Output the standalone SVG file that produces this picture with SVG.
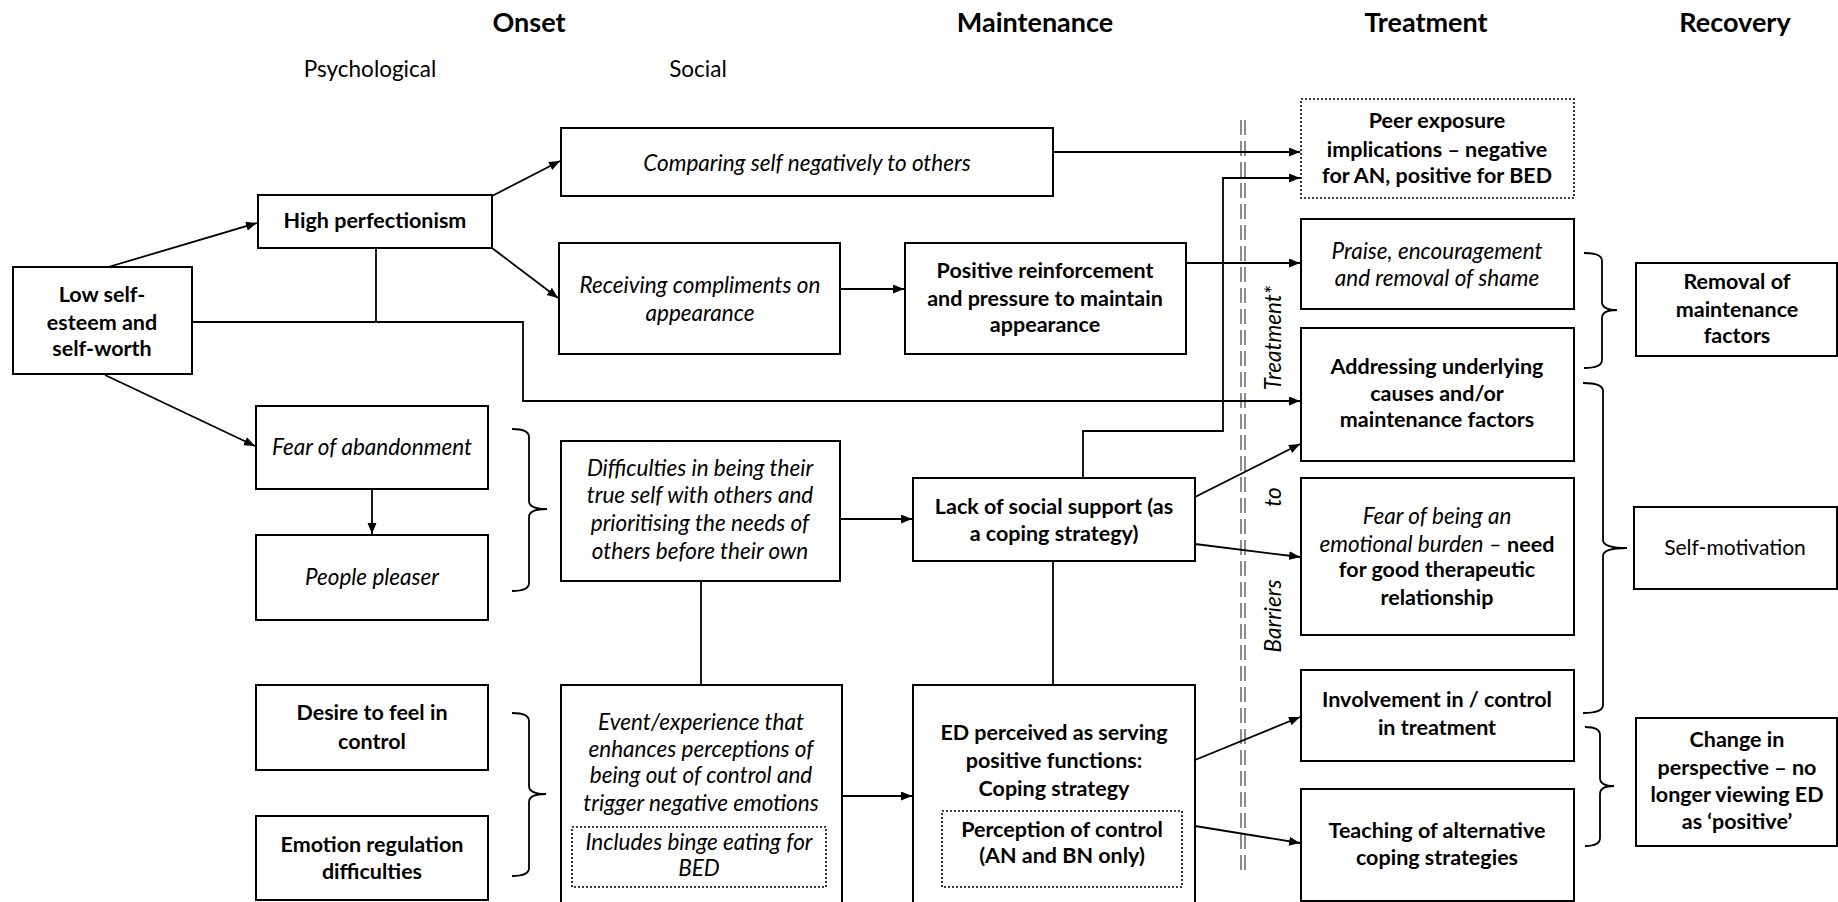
<svg xmlns="http://www.w3.org/2000/svg" width="1838" height="902" viewBox="0 0 1838 902">
<defs>
<marker id="arr" markerUnits="userSpaceOnUse" markerWidth="12" markerHeight="10" refX="11" refY="4.5" orient="auto">
<path d="M0,0 L11,4.5 L0,9 z" fill="#000"/>
</marker>
<style>
text{font-family:Lato,"Liberation Sans",sans-serif;fill:#000;text-anchor:middle}
.t{font-size:27px;font-weight:bold}
.s{font-size:22.5px}
.sm{font-size:21px}
.b{font-size:21.5px;font-weight:bold}
.i{font-size:22.5px;font-style:italic}
.bx{fill:#fff;stroke:#000;stroke-width:2}
.dot{fill:none;stroke:#000;stroke-width:1.6;stroke-dasharray:2 2}
.c{fill:none;stroke:#000;stroke-width:1.8}
.a{fill:none;stroke:#000;stroke-width:1.8;marker-end:url(#arr)}
.br{fill:none;stroke:#000;stroke-width:1.8}
.dl{stroke:#7a7a7a;stroke-width:1.7;stroke-dasharray:15 6}
</style>
</defs>
<rect width="1838" height="902" fill="#fff"/>

<g id="headers">
<text class="t" x="529" y="32">Onset</text>
<text class="t" x="1035" y="32">Maintenance</text>
<text class="t" x="1426" y="32">Treatment</text>
<text class="t" x="1735" y="32">Recovery</text>
<text class="s" x="370" y="77">Psychological</text>
<text class="s" x="698" y="77">Social</text>
</g>

<g id="barrier-line">
<line class="dl" x1="1241" y1="120" x2="1241" y2="870"/>
<line class="dl" x1="1245" y1="120" x2="1245" y2="870"/>
<text class="i" transform="translate(1281,338) rotate(-90)">Treatment*</text>
<text class="i" transform="translate(1281,497) rotate(-90)">to</text>
<text class="i" transform="translate(1281,616) rotate(-90)">Barriers</text>
</g>

<g id="connectors">
<line class="a" x1="105" y1="268" x2="257" y2="223"/>
<line class="a" x1="492" y1="196" x2="560" y2="161"/>
<line class="a" x1="492" y1="248" x2="558" y2="298"/>
<line class="c" x1="376" y1="248" x2="376" y2="322"/>
<polyline class="a" points="192,322 523,322 523,401 1300,401"/>
<line class="a" x1="105" y1="375" x2="255" y2="446"/>
<line class="a" x1="372" y1="489" x2="372" y2="534"/>
<line class="a" x1="1053" y1="152" x2="1300" y2="152"/>
<line class="a" x1="840" y1="289" x2="904" y2="289"/>
<line class="a" x1="1186" y1="263" x2="1300" y2="263"/>
<polyline class="a" points="1083,478 1083,431 1223,431 1223,178 1300,178"/>
<line class="a" x1="840" y1="519" x2="912" y2="519"/>
<line class="a" x1="1195" y1="497" x2="1300" y2="444"/>
<line class="a" x1="1195" y1="544" x2="1300" y2="557"/>
<line class="c" x1="701" y1="581" x2="701" y2="685"/>
<line class="c" x1="1053" y1="561" x2="1053" y2="685"/>
<line class="a" x1="842" y1="796" x2="912" y2="796"/>
<line class="a" x1="1195" y1="760" x2="1300" y2="717"/>
<line class="a" x1="1195" y1="826" x2="1300" y2="843"/>
</g>

<g id="brackets">
<path class="br" d="M512,429 Q529,429 529,437 L529,501 Q529,509 547,509 Q529,509 529,517 L529,583 Q529,591 512,591"/>
<path class="br" d="M512,713 Q529,713 529,721 L529,786 Q529,794 546,794 Q529,794 529,802 L529,868 Q529,876 512,876"/>
<path class="br" d="M1584,253 Q1602,253 1602,261 L1602,302 Q1602,310 1617,310 Q1602,310 1602,318 L1602,360 Q1602,368 1584,368"/>
<path class="br" d="M1583,383 Q1603,383 1603,391 L1603,540 Q1603,548 1627,548 Q1603,548 1603,556 L1603,705 Q1603,713 1583,713"/>
<path class="br" d="M1585,727 Q1600,727 1600,735 L1600,778 Q1600,786 1614,786 Q1600,786 1600,794 L1600,838 Q1600,846 1585,846"/>
</g>

<g id="n-low-self-esteem">
<rect class="bx" x="13" y="267" width="179" height="107"/>
<text class="b" x="102" y="302">Low self-</text>
<text class="b" x="102" y="330">esteem and</text>
<text class="b" x="102" y="356">self-worth</text>
</g>

<g id="n-high-perfectionism">
<rect class="bx" x="258" y="195" width="234" height="53"/>
<text class="b" x="375" y="228">High perfectionism</text>
</g>

<g id="n-fear-abandonment">
<rect class="bx" x="256" y="406" width="232" height="83"/>
<text class="i" x="372" y="455">Fear of abandonment</text>
</g>

<g id="n-people-pleaser">
<rect class="bx" x="256" y="535" width="232" height="85"/>
<text class="i" x="372" y="585">People pleaser</text>
</g>

<g id="n-desire-control">
<rect class="bx" x="256" y="685" width="232" height="85"/>
<text class="b" x="372" y="720">Desire to feel in</text>
<text class="b" x="372" y="749">control</text>
</g>

<g id="n-emotion-regulation">
<rect class="bx" x="256" y="816" width="232" height="84"/>
<text class="b" x="372" y="852">Emotion regulation</text>
<text class="b" x="372" y="879">difficulties</text>
</g>

<g id="n-comparing">
<rect class="bx" x="561" y="128" width="492" height="68"/>
<text class="i" x="807" y="171">Comparing self negatively to others</text>
</g>

<g id="n-receiving">
<rect class="bx" x="559" y="243" width="281" height="111"/>
<text class="i" x="700" y="293">Receiving compliments on</text>
<text class="i" x="700" y="321">appearance</text>
</g>

<g id="n-difficulties">
<rect class="bx" x="561" y="441" width="279" height="140"/>
<text class="i" x="700" y="476">Difficulties in being their</text>
<text class="i" x="700" y="503">true self with others and</text>
<text class="i" x="700" y="531">prioritising the needs of</text>
<text class="i" x="700" y="559">others before their own</text>
</g>

<g id="n-event">
<rect class="bx" x="561" y="685" width="281" height="225"/>
<text class="i" x="701" y="730">Event/experience that</text>
<text class="i" x="701" y="757">enhances perceptions of</text>
<text class="i" x="701" y="783">being out of control and</text>
<text class="i" x="701" y="811">trigger negative emotions</text>
<rect class="dot" x="572" y="827" width="254" height="60"/>
<text class="i" x="699" y="850">Includes binge eating for</text>
<text class="i" x="699" y="876">BED</text>
</g>

<g id="n-positive-reinforcement">
<rect class="bx" x="905" y="243" width="281" height="111"/>
<text class="b" x="1045" y="278">Positive reinforcement</text>
<text class="b" x="1045" y="306">and pressure to maintain</text>
<text class="b" x="1045" y="332">appearance</text>
</g>

<g id="n-lack-support">
<rect class="bx" x="913" y="478" width="282" height="83"/>
<text class="b" x="1054" y="514">Lack of social support (as</text>
<text class="b" x="1054" y="541">a coping strategy)</text>
</g>

<g id="n-ed-functions">
<rect class="bx" x="913" y="685" width="282" height="225"/>
<text class="b" x="1054" y="740">ED perceived as serving</text>
<text class="b" x="1054" y="768">positive functions:</text>
<text class="b" x="1054" y="796">Coping strategy</text>
<rect class="dot" x="942" y="811" width="240" height="76"/>
<text class="b" x="1062" y="837">Perception of control</text>
<text class="b" x="1062" y="863">(AN and BN only)</text>
</g>

<g id="n-peer-exposure">
<rect class="dot" x="1301" y="99" width="273" height="99"/>
<text class="b" x="1437" y="128">Peer exposure</text>
<text class="b" x="1437" y="157">implications – negative</text>
<text class="b" x="1437" y="183">for AN, positive for BED</text>
</g>

<g id="n-praise">
<rect class="bx" x="1301" y="219" width="273" height="90"/>
<text class="i" x="1437" y="259">Praise, encouragement</text>
<text class="i" x="1437" y="286">and removal of shame</text>
</g>

<g id="n-addressing">
<rect class="bx" x="1301" y="328" width="273" height="133"/>
<text class="b" x="1437" y="374">Addressing underlying</text>
<text class="b" x="1437" y="401">causes and/or</text>
<text class="b" x="1437" y="427">maintenance factors</text>
</g>

<g id="n-fear-burden">
<rect class="bx" x="1301" y="478" width="273" height="157"/>
<text class="i" x="1437" y="524">Fear of being an</text>
<text x="1437" y="552"><tspan class="i">emotional burden – </tspan><tspan class="b">need</tspan></text>
<text class="b" x="1437" y="577">for good therapeutic</text>
<text class="b" x="1437" y="605">relationship</text>
</g>

<g id="n-involvement">
<rect class="bx" x="1301" y="670" width="273" height="91"/>
<text class="b" x="1437" y="707">Involvement in / control</text>
<text class="b" x="1437" y="735">in treatment</text>
</g>

<g id="n-teaching">
<rect class="bx" x="1301" y="789" width="273" height="112"/>
<text class="b" x="1437" y="838">Teaching of alternative</text>
<text class="b" x="1437" y="865">coping strategies</text>
</g>

<g id="n-removal">
<rect class="bx" x="1636" y="263" width="201" height="93"/>
<text class="b" x="1737" y="289">Removal of</text>
<text class="b" x="1737" y="317">maintenance</text>
<text class="b" x="1737" y="343">factors</text>
</g>

<g id="n-self-motivation">
<rect class="bx" x="1634" y="507" width="203" height="82"/>
<text class="sm" x="1735" y="555">Self-motivation</text>
</g>

<g id="n-change-perspective">
<rect class="bx" x="1636" y="718" width="201" height="128"/>
<text class="b" x="1737" y="747">Change in</text>
<text class="b" x="1737" y="775">perspective – no</text>
<text class="b" x="1737" y="802">longer viewing ED</text>
<text class="b" x="1737" y="829">as ‘positive’</text>
</g>
</svg>
